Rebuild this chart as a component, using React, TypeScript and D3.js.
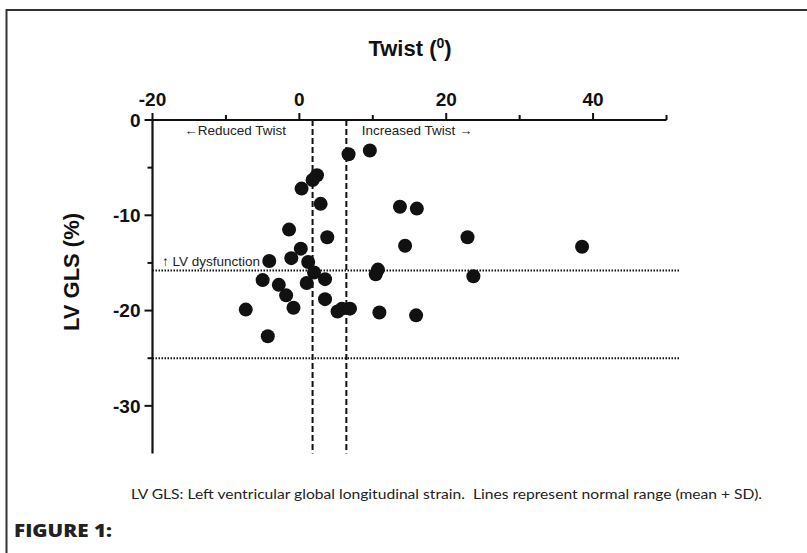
import React, { useEffect, useRef } from "react";
import * as d3 from "d3";

const twist = [6.7, 9.6, 2.4, 1.8, 0.3, 2.9, 13.7, 16.0, -1.4, 3.8, 22.9, 14.4, 0.2, -1.1, -4.1, 1.2, 2.0, 10.7, 10.4, 23.7, -5.0, 3.5, 1.0, -2.8, -1.8, 3.5, -7.3, -0.8, 5.2, 5.8, 6.9, 10.9, 15.9, -4.3, 38.5];
const gls = [-3.6, -3.2, -5.8, -6.3, -7.2, -8.8, -9.1, -9.3, -11.5, -12.3, -12.3, -13.2, -13.5, -14.5, -14.8, -14.9, -16.0, -15.7, -16.2, -16.4, -16.8, -16.7, -17.1, -17.3, -18.4, -18.8, -19.9, -19.7, -20.1, -19.8, -19.8, -20.2, -20.5, -22.7, -13.3];

const xTicks = [-20, -10, 0, 10, 20, 30, 40, 50];
const xLabels = [-20, 0, 20, 40];
const yTicks = [0, -10, -20, -30];
const yMinor = [-5, -15, -25];
const twistRange = [1.8, 6.4];
const glsRange = [-15.8, -25];

export default function App() {
  const ref = useRef<SVGSVGElement>(null);
  useEffect(() => {
    const svg = d3.select(ref.current);
    svg.selectAll("*").remove();
    const x = d3.scaleLinear().domain([-20, 50]).range([152.5, 666.5]);
    const y = d3.scaleLinear().domain([0, -35]).range([120, 453.5]);
    const axisFont = "'Liberation Sans', Arial, sans-serif";

    // border
    svg.append("rect").attr("x", 6.5).attr("y", 10).attr("width", 820).attr("height", 560)
      .attr("fill", "none").attr("stroke", "#333").attr("stroke-width", 2);

    // reference lines
    twistRange.forEach(v => {
      svg.append("line").attr("x1", x(v)).attr("x2", x(v)).attr("y1", y(0)).attr("y2", y(-35))
        .attr("stroke", "#111").attr("stroke-width", 2).attr("stroke-dasharray", "6,3");
    });
    glsRange.forEach(v => {
      svg.append("line").attr("x1", x(-20)).attr("x2", x(51.8)).attr("y1", y(v)).attr("y2", y(v))
        .attr("stroke", "#111").attr("stroke-width", 2).attr("stroke-dasharray", "1.5,1.5");
    });

    // top axis
    const gx = svg.append("g").attr("transform", `translate(0,${y(0)})`);
    gx.append("line").attr("x1", x(-20)).attr("x2", x(50)).attr("stroke", "#111").attr("stroke-width", 2.2);
    gx.selectAll("line.t").data(xTicks).enter().append("line")
      .attr("x1", d => x(d)).attr("x2", d => x(d)).attr("y1", 0)
      .attr("y2", d => (xLabels.includes(d) ? -7 : -5)).attr("stroke", "#111").attr("stroke-width", 2);
    gx.selectAll("text").data(xLabels).enter().append("text")
      .attr("x", d => x(d)).attr("y", -14).attr("text-anchor", "middle")
      .attr("font-family", axisFont).attr("font-weight", "bold").attr("font-size", 19).attr("fill", "#111")
      .text(d => String(d));

    // left axis
    const gy = svg.append("g").attr("transform", `translate(${x(-20)},0)`);
    gy.append("line").attr("y1", y(0)).attr("y2", y(-35)).attr("stroke", "#111").attr("stroke-width", 2.2);
    gy.selectAll("line.m").data(yTicks).enter().append("line")
      .attr("x1", -8).attr("x2", 0).attr("y1", d => y(d)).attr("y2", d => y(d)).attr("stroke", "#111").attr("stroke-width", 2);
    gy.selectAll("line.n").data(yMinor).enter().append("line")
      .attr("x1", -5).attr("x2", 0).attr("y1", d => y(d)).attr("y2", d => y(d)).attr("stroke", "#111").attr("stroke-width", 2);
    gy.selectAll("text").data(yTicks).enter().append("text")
      .attr("x", -12).attr("y", d => y(d)).attr("dy", "0.36em").attr("text-anchor", "end")
      .attr("font-family", axisFont).attr("font-weight", "bold").attr("font-size", 19).attr("fill", "#111")
      .text(d => String(d));

    // titles
    const t = svg.append("text").attr("x", 410).attr("y", 56).attr("text-anchor", "middle")
      .attr("font-family", axisFont).attr("font-weight", "bold").attr("font-size", 22).attr("fill", "#111");
    t.append("tspan").text("Twist (");
    t.append("tspan").attr("font-size", 14).attr("dy", -8).text("0");
    t.append("tspan").attr("dy", 8).text(")");

    svg.append("text").attr("transform", `translate(79,272) rotate(-90)`).attr("text-anchor", "middle")
      .attr("font-family", axisFont).attr("font-weight", "bold").attr("font-size", 22).attr("fill", "#111")
      .text("LV GLS (%)");

    // annotations
    const ann = (tx: string, xv: number, yv: number, anchor: string) =>
      svg.append("text").attr("x", x(xv)).attr("y", y(yv)).attr("text-anchor", anchor)
        .attr("font-family", axisFont).attr("font-size", 13.5).attr("fill", "#222").text(tx);
    ann("\u2190Reduced Twist", -1.8, -1.6, "end");
    ann("Increased Twist \u2192", 8.5, -1.6, "start");
    ann("\u2191 LV dysfunction", -18.7, -15.3, "start");

    // points
    svg.selectAll("circle").data(twist.map((v, i) => [v, gls[i]])).enter().append("circle")
      .attr("cx", d => x(d[0])).attr("cy", d => y(d[1])).attr("r", 7).attr("fill", "#111");

    // caption
    svg.append("text").attr("x", 131).attr("y", 499).attr("textLength", 631).attr("lengthAdjust", "spacingAndGlyphs")
      .attr("xml:space", "preserve").style("white-space", "pre")
      .attr("font-family", "Lato, 'Open Sans', sans-serif").attr("font-size", 13.5).attr("fill", "#222")
      .text("LV GLS: Left ventricular global longitudinal strain.  Lines represent normal range (mean + SD).");
    svg.append("text").attr("x", 14).attr("y", 537).attr("textLength", 98).attr("lengthAdjust", "spacingAndGlyphs")
      .attr("font-family", "'Open Sans', sans-serif").attr("font-weight", 800).attr("font-size", 18).attr("fill", "#222")
      .text("FIGURE 1:");
  }, []);
  return (
    <svg ref={ref} width={807} height={553} style={{ position: "absolute", left: 0, top: 0, background: "#fff" }} />
  );
}
